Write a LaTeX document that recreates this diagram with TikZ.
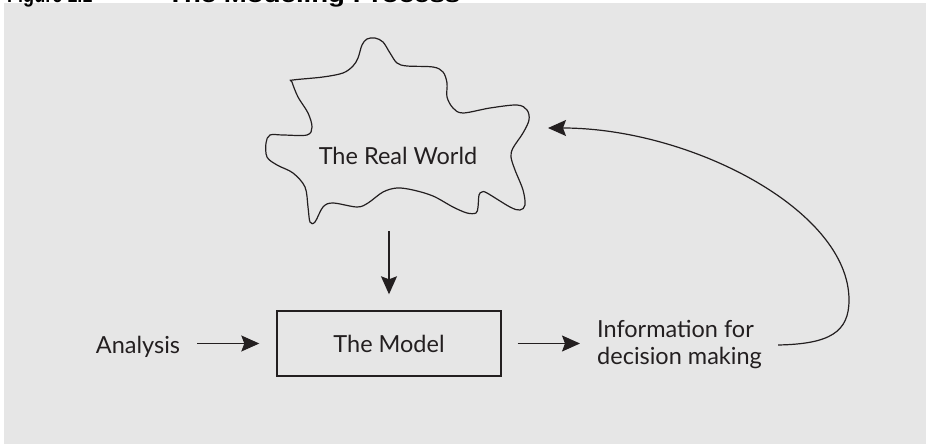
\documentclass[tikz,border=0pt]{standalone}
\usepackage{fontspec}
\usetikzlibrary{arrows.meta,calc}
\newfontfamily\lab{Lato}
\newfontfamily\ttl{Liberation Sans}
\definecolor{ink}{HTML}{231F20}
\definecolor{bg}{HTML}{E6E6E6}
\tikzset{
  lbl/.style={font=\lab\fontsize{23.5}{27}\selectfont, text=ink, inner sep=0pt},
  ttlstyle/.style={font=\ttl\bfseries\fontsize{22}{26}\selectfont, text=black, inner sep=0pt, anchor=base west},
  arr/.style={draw=ink, line width=1.2pt, -{Stealth[length=18pt,width=16pt,inset=3pt]}},
  modelbox/.style={draw=ink, line width=1.4pt, minimum width=224pt, minimum height=65pt, inner sep=0pt},
  cloudline/.style={draw=ink, line width=1.2pt}
}
\begin{document}
\begin{tikzpicture}[x=1pt,y=-1pt]
\useasboundingbox (0,0) rectangle (926,444);
\fill[bg] (4,3) rectangle (926,444);
% title (mostly cut off at the top)
\node[ttlstyle] (fig) at (7,3) {\scalebox{0.82}[1]{Figure 1.1}};
\node[ttlstyle] (title) at (167,3) {\resizebox{293pt}{\height}{The Modeling Process}};
% cloud
\draw[cloudline] plot[smooth cycle, tension=0.55] coordinates {
 (293,80) (323,77) (343,73) (353,66) (358,58) (362,45) (367,39) (375,38) (383,42) (390,53) (397,63) (407,66)
 (433,67) (443,72) (447,83) (447,97) (453,108) (463,113) (490,108) (517,105) (527,110) (529,120) (523,133)
 (513,148) (511,157) (515,170) (523,190) (525,205) (520,210) (510,207) (487,193) (482,192) (479,195)
 (478,207) (476,213) (467,213) (453,207) (433,196) (413,190) (397,188) (383,192) (368,203) (357,207)
 (333,203) (323,207) (315,222) (310,222) (308,207) (305,187) (293,173) (277,165) (267,157) (266,143)
 (270,135) (283,135) (307,135) (312,127) (308,113) (298,97) (292,82)};
\node[lbl, anchor=base] (world) at (398,164) {The Real World};
% model box
\node[modelbox, lbl] (model) at (389,343.5) {The Model};
\node[lbl, anchor=base] (analysis) at (138,353) {Analysis};
\node[lbl, anchor=west, align=left] (info) at (597,345) {Information for\\decision making};
% connectors
\coordinate (wb) at (389,231);
\coordinate (fb) at (548,128);
\draw[arr, shorten >=16pt] (wb) -- (model.north);
\draw[arr, shorten <=17pt, shorten >=17pt] (analysis.east |- model.west) -- (model.west);
\draw[arr, shorten <=16pt, shorten >=17pt] (model.east) -- (model.east -| info.west);
\coordinate (c0) at ($(info.east)+(16pt,0)$);
\draw[arr] (c0) .. controls (830,344) and (849,332) .. (849,300)
           .. controls (849,210) and (690,128) .. (fb);
\end{tikzpicture}
\end{document}
